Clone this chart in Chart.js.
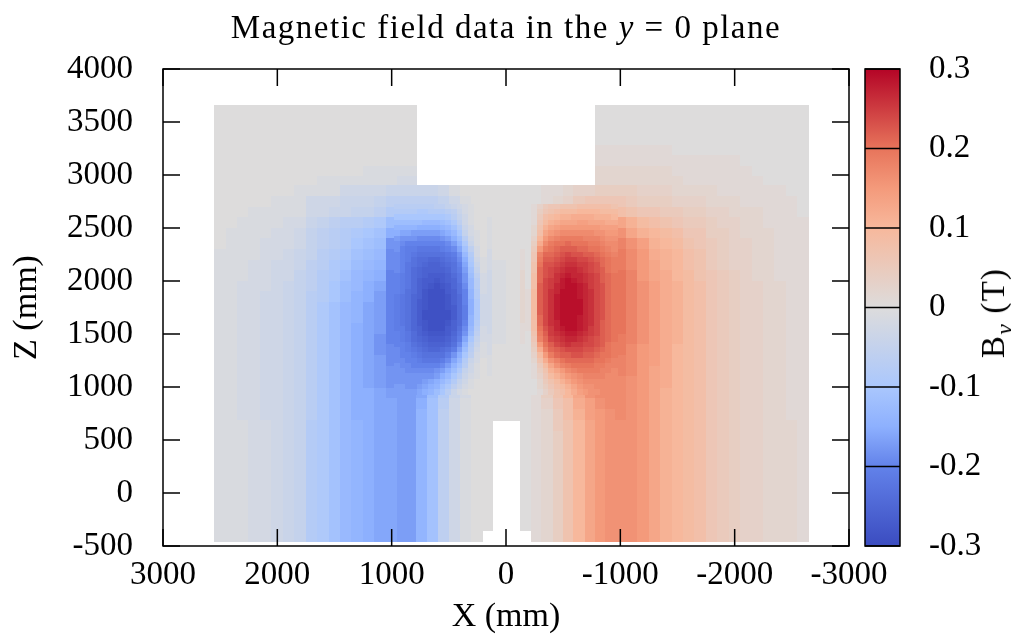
<!DOCTYPE html>
<html>
<head>
<meta charset="utf-8">
<title>Magnetic field data</title>
<script src="https://cdn.jsdelivr.net/npm/chart.js@4/dist/chart.umd.min.js"></script>
<style>
    html, body { margin: 0; padding: 0; background: #fff; }
    #page { position: relative; width: 1011px; height: 634px; overflow: hidden; font-family: "Liberation Serif", serif; color: #000; }
    canvas { position: absolute; top: 0; }
    #mainTitle { position: absolute; left: 0; width: 1012px; top: 7px; text-align: center; font-size: 33px; line-height: 40px; letter-spacing: 1.5px; white-space: nowrap; }
    #barTitle { position: absolute; left: 993px; top: 313px; font-size: 33px; line-height: 40px; letter-spacing: 1.2px; white-space: nowrap; transform: translate(-50%, -50%) rotate(-90deg); }
    #barTitle sub { font-size: 24px; font-style: italic; line-height: 0; }
</style>
</head>
<body>
<div id="page">
    <canvas id="fieldChart" width="1011" height="634" style="left:0"></canvas>
    <canvas id="barChart" width="161" height="634" style="left:850px"></canvas>
    <div id="mainTitle">Magnetic field data in the <i>y</i> = 0 plane</div>
    <div id="barTitle">B<sub>y</sub> (T)</div>
</div>
<script>
var N = null;

// tick labels
var xTicks = [3000, 2000, 1000, 0, -1000, -2000, -3000];
var zTicks = [-500, 0, 500, 1000, 1500, 2000, 2500, 3000, 3500, 4000];
var barTicks = [-0.3, -0.2, -0.1, 0, 0.1, 0.2, 0.3];

// coarse cell edges in mm
var xEdges = [2550, 2450, 2350, 2250, 2150, 2050, 1950, 1850, 1750, 1650, 1550, 1450, 1350, 1250, 1150, 1050,
    950, 870, 785, 690, 590, 495, 400, 305, 210, 115, 0, -125, -220, -315, -410, -500, -595, -690, -780,
    -870, -960, -1050, -1150, -1250, -1350, -1450, -1550, -1650, -1750, -1850, -1950, -2050, -2150, -2250,
    -2350, -2450, -2550, -2650];
var zEdges = [3660, 3565, 3470, 3370, 3275, 3180, 3085, 2990, 2895, 2795, 2695, 2595, 2495, 2395, 2295, 2195,
    2095, 1995, 1895, 1795, 1695, 1595, 1495, 1395, 1295, 1195, 1095, 990, 885, 785, 680, 580, 475, 370, 270,
    165, 65, -40, -145, -250, -355, -460];

// By in 0.01 T, one row per z band (top to bottom), one value per x band
var byRows = [
    [0,0,0,0,0,0,0,0,0,0,0,0,0,0,0,0,0,0,N,N,N,N,N,N,N,N,N,N,N,N,N,N,N,N,0,0,0,0,0,0,0,0,0,0,0,0,0,0,0,0,0,0,0],
    [0,0,0,0,0,0,0,0,0,0,0,0,0,0,0,0,0,0,N,N,N,N,N,N,N,N,N,N,N,N,N,N,N,N,0,0,0,0,0,0,0,0,0,0,0,0,0,0,0,0,0,0,0],
    [0,0,0,0,0,0,0,0,0,0,0,0,0,0,0,0,0,0,N,N,N,N,N,N,N,N,N,N,N,N,N,N,N,N,0,0,0,0,0,0,0,0,0,0,0,0,0,0,0,0,0,0,0],
    [0,0,0,0,0,0,0,0,0,0,0,0,0,0,0,0,0,0,N,N,N,N,N,N,N,N,N,N,N,N,N,N,N,N,0,0,0,0,0,0,0,0,0,0,0,0,0,0,0,0,0,0,0],
    [0,0,0,0,0,0,0,0,0,0,0,0,0,0,0,0,0,0,N,N,N,N,N,N,N,N,N,N,N,N,N,N,N,N,1,1,1,1,1,1,1,0,0,0,0,0,0,0,0,0,0,0,0],
    [0,0,0,0,0,0,0,0,0,0,0,0,0,0,0,0,0,0,N,N,N,N,N,N,N,N,N,N,N,N,N,N,N,N,1,1,1,1,1,1,1,1,1,1,1,1,1,0,0,0,0,0,0],
    [0,0,0,0,0,0,0,0,0,0,0,0,0,-1,-1,-1,-1,-1,N,N,N,N,N,N,N,N,N,N,N,N,N,N,N,N,2,2,2,2,2,2,2,1,1,1,1,1,1,1,0,0,0,0,0],
    [0,0,0,0,0,0,0,0,0,-1,-1,-1,-1,-1,-1,-1,-2,-2,N,N,N,N,N,N,N,N,N,N,N,N,N,N,N,N,2,2,2,2,2,2,2,2,1,1,1,1,1,1,1,0,0,0,0],
    [0,0,0,0,0,0,0,-1,-1,-1,-1,-3,-3,-3,-3,-4,-4,-4,-4,-4,-3,-1,0,0,0,0,0,0,0,1,1,2,3,3,4,4,4,4,3,3,3,2,2,2,2,1,1,1,1,1,1,0,0],
    [0,0,0,0,0,-1,-1,-1,-3,-3,-3,-4,-4,-4,-5,-6,-6,-6,-6,-6,-5,-3,-1,0,0,0,0,0,0,1,2,3,5,6,6,6,6,5,4,4,4,3,3,3,2,2,2,1,1,1,1,1,0],
    [0,0,0,-1,-1,-1,-1,-1,-3,-3,-4,-4,-5,-5,-6,-8,-7,-8,-9,-9,-7,-5,-2,-1,0,0,0,0,1,2,4,6,8,9,9,9,8,7,6,6,5,5,4,4,3,3,2,2,2,1,1,1,0],
    [0,0,-1,-1,-1,-1,-2,-2,-4,-5,-6,-7,-7,-8,-9,-12,-11,-12,-14,-14,-12,-9,-5,-2,-1,0,0,0,1,5,9,11,13,13,13,13,13,11,9,8,7,6,5,5,4,3,3,2,2,1,1,1,1],
    [0,-1,-1,-1,-1,-2,-2,-3,-5,-6,-7,-8,-9,-10,-11,-15,-14,-15,-17,-18,-17,-13,-8,-3,-1,0,0,0,3,9,13,15,17,17,16,15,16,13,11,10,9,8,6,6,4,4,3,2,2,2,1,1,1],
    [0,-1,-1,-1,-2,-2,-2,-3,-5,-6,-7,-8,-10,-11,-12,-18,-16,-17,-19,-21,-20,-16,-11,-5,-1,0,0,0,7,14,17,19,20,20,19,18,18,16,14,11,10,9,7,6,5,4,3,3,2,2,1,1,1],
    [-1,-1,-1,-1,-2,-2,-3,-4,-5,-7,-8,-9,-11,-12,-13,-19,-17,-19,-22,-23,-23,-19,-13,-6,-2,0,0,1,12,19,22,23,23,23,21,20,19,17,15,12,11,10,8,7,5,4,3,3,2,2,1,1,1],
    [-1,-1,-1,-2,-2,-3,-3,-4,-6,-7,-9,-10,-12,-13,-14,-19,-18,-21,-24,-25,-24,-21,-15,-8,-2,-1,0,1,15,21,24,26,26,24,23,21,19,17,15,13,11,10,8,7,5,4,3,3,2,2,1,1,1],
    [-1,-1,-1,-2,-2,-3,-3,-5,-6,-8,-9,-11,-13,-14,-15,-20,-19,-22,-25,-27,-26,-22,-16,-10,-3,-1,0,2,18,24,26,28,27,25,24,22,20,18,15,13,12,10,9,7,6,5,4,3,2,2,1,1,1],
    [-1,-1,-2,-2,-2,-3,-4,-5,-6,-8,-10,-12,-13,-15,-16,-20,-20,-23,-26,-28,-27,-24,-18,-11,-3,-1,0,2,19,25,28,29,28,26,24,22,20,18,16,14,12,11,9,8,6,5,4,3,3,2,2,1,1],
    [-1,-1,-2,-2,-3,-3,-4,-5,-7,-8,-10,-12,-14,-15,-17,-20,-21,-24,-27,-29,-28,-25,-20,-12,-3,-1,0,2,19,25,28,29,28,26,24,22,20,18,16,14,12,11,9,8,6,5,4,3,3,2,2,1,1],
    [-1,-1,-2,-2,-3,-3,-4,-5,-7,-9,-11,-13,-14,-16,-17,-20,-21,-24,-27,-29,-29,-26,-21,-13,-3,-1,0,2,18,25,28,29,28,26,24,22,20,18,16,14,12,11,9,8,6,5,4,3,3,2,2,1,1],
    [-1,-1,-2,-2,-3,-3,-4,-5,-7,-9,-11,-13,-14,-16,-17,-20,-21,-24,-27,-29,-29,-25,-20,-12,-3,-1,0,2,17,24,28,29,28,26,24,22,20,18,16,14,12,11,9,8,6,5,4,3,3,2,2,1,1],
    [-1,-1,-2,-2,-3,-3,-4,-5,-7,-9,-11,-13,-15,-16,-17,-20,-21,-24,-27,-29,-28,-24,-18,-10,-3,-1,0,1,14,23,27,28,27,25,23,21,20,18,16,14,12,11,9,8,6,5,4,3,3,2,2,1,1],
    [-1,-1,-2,-2,-3,-3,-4,-5,-7,-9,-11,-13,-15,-16,-18,-20,-21,-23,-26,-27,-26,-22,-15,-8,-2,-1,0,1,10,21,25,27,25,24,22,21,19,18,16,14,12,11,9,8,6,5,4,3,3,2,2,1,1],
    [-1,-1,-2,-2,-3,-3,-4,-5,-7,-9,-11,-13,-15,-16,-18,-19,-20,-22,-24,-25,-24,-19,-12,-6,-2,0,0,0,7,18,22,24,23,23,21,20,19,17,15,14,12,10,9,8,6,5,4,3,3,2,2,1,1],
    [-1,-1,-2,-2,-3,-3,-4,-5,-7,-9,-11,-13,-15,-16,-17,-19,-20,-21,-22,-22,-20,-16,-9,-4,-1,0,0,0,4,13,18,21,22,21,20,19,18,17,15,14,12,10,9,8,6,5,4,3,3,2,2,1,1],
    [-1,-1,-2,-2,-3,-3,-4,-5,-7,-9,-11,-13,-15,-16,-17,-18,-19,-20,-20,-19,-17,-12,-6,-3,-1,0,0,0,2,10,14,18,20,20,19,18,18,17,15,13,12,10,9,8,6,5,4,3,3,2,2,1,1],
    [-1,-1,-2,-2,-3,-3,-4,-5,-7,-9,-11,-13,-15,-16,-17,-18,-18,-19,-18,-16,-14,-9,-5,-2,0,0,0,0,1,7,10,13,16,18,18,18,17,16,15,13,12,10,9,8,6,5,4,3,3,2,2,1,1],
    [-1,-1,-2,-2,-3,-3,-4,-5,-7,-9,-11,-13,-15,-15,-16,-17,-17,-17,-16,-12,-8,-4,-2,0,0,0,0,0,1,4,7,10,13,16,17,17,17,16,15,13,11,10,9,8,6,5,4,3,3,2,2,1,1],
    [-1,-1,-2,-2,-3,-3,-4,-5,-7,-9,-11,-13,-15,-15,-16,-16,-17,-17,-15,-11,-7,-3,-1,0,0,0,0,0,1,3,6,8,12,14,16,17,17,16,15,13,11,10,9,8,6,5,4,3,3,2,2,1,1],
    [-1,-1,-2,-2,-3,-3,-4,-5,-7,-9,-11,-13,-15,-15,-16,-16,-17,-17,-14,-11,-6,-3,-1,0,0,0,0,0,1,2,5,8,11,14,15,16,17,16,15,13,11,10,9,8,6,5,4,3,3,2,2,1,1],
    [-1,-1,-1,-2,-2,-3,-4,-5,-8,-9,-11,-13,-14,-15,-16,-16,-17,-17,-14,-11,-6,-3,-1,0,0,N,N,0,1,2,5,7,10,13,15,16,16,16,15,13,11,10,9,8,6,5,4,3,3,2,2,2,1],
    [-1,-1,-1,-2,-2,-3,-4,-5,-8,-9,-11,-13,-14,-15,-16,-16,-17,-17,-14,-11,-6,-3,-1,0,0,N,N,0,1,2,4,7,10,13,15,16,16,16,15,13,11,10,9,8,6,5,4,3,3,2,2,2,1],
    [-1,-1,-1,-2,-2,-3,-4,-5,-8,-9,-11,-13,-14,-15,-16,-16,-17,-17,-14,-11,-6,-3,-1,0,0,N,N,0,1,2,4,7,10,13,15,16,16,16,15,13,11,10,9,8,6,5,4,3,3,2,2,2,1],
    [-1,-1,-1,-2,-2,-3,-4,-5,-8,-9,-11,-13,-14,-15,-16,-16,-17,-17,-14,-11,-6,-3,-1,0,0,N,N,0,1,2,4,7,10,13,15,16,16,16,15,13,11,10,9,8,6,5,4,3,3,2,2,2,1],
    [-1,-1,-1,-2,-2,-3,-4,-5,-8,-9,-11,-13,-14,-15,-16,-16,-17,-17,-14,-11,-6,-3,-1,0,0,N,N,0,1,2,4,7,10,13,15,16,16,16,15,13,11,10,9,8,6,5,4,3,3,2,2,2,1],
    [-1,-1,-1,-2,-2,-3,-4,-5,-8,-9,-11,-13,-14,-15,-16,-16,-17,-17,-14,-11,-6,-3,-1,0,0,N,N,0,1,2,4,7,10,13,15,16,16,16,15,13,11,10,9,8,6,5,4,3,3,2,2,2,1],
    [-1,-1,-1,-2,-2,-3,-4,-5,-8,-9,-11,-13,-14,-15,-16,-16,-17,-17,-14,-11,-6,-3,-1,0,0,N,N,0,1,2,4,7,10,13,15,16,16,16,15,13,11,10,9,8,6,5,4,3,3,2,2,2,1],
    [-1,-1,-1,-2,-2,-3,-4,-5,-8,-9,-11,-13,-14,-15,-16,-16,-17,-17,-14,-11,-6,-3,-1,0,0,N,N,0,1,2,4,7,10,13,15,16,16,16,15,13,11,10,9,8,6,5,4,3,3,2,2,2,1],
    [-1,-1,-1,-2,-2,-3,-4,-5,-8,-9,-11,-13,-14,-15,-16,-16,-17,-17,-14,-11,-6,-3,-1,0,0,N,N,0,1,2,4,7,10,13,15,16,16,16,15,13,11,10,9,8,6,5,4,3,3,2,2,2,1],
    [-1,-1,-1,-2,-2,-3,-4,-5,-8,-9,-11,-13,-14,-15,-16,-16,-17,-17,-14,-11,-6,-3,-1,0,0,N,N,0,1,2,4,7,10,13,15,16,16,16,15,13,11,10,9,8,6,5,4,3,3,2,2,2,1],
    [-1,-1,-1,-2,-2,-3,-4,-5,-8,-9,-11,-13,-14,-15,-16,-16,-17,-17,-14,-11,-6,-3,-1,0,N,N,N,N,1,2,4,7,10,13,15,16,16,16,15,13,11,10,9,8,6,5,4,3,3,2,2,2,1]
];

// finer 50 mm cells around the two field peaks
var fineZ = [2700, 2650, 2600, 2550, 2500, 2450, 2400, 2350, 2300, 2250, 2200, 2150, 2100, 2050, 2000, 1950, 1900, 1850,
    1800, 1750, 1700, 1650, 1600, 1550, 1500, 1450, 1400, 1350, 1300, 1250, 1200, 1150, 1100, 1050, 1000, 950];
var blueX = [950, 900, 850, 800, 750, 700, 650, 600, 550, 500, 450, 400, 350, 300, 250, 200];
var redX = [-200, -250, -300, -350, -400, -450, -500, -550, -600, -650, -700, -750, -800, -850, -900, -950];

var blueRows = [
    [-7,-7,-7,-7,-7,-7,-7,-6,-6,-5,-4,-3,-2,-1,0,0],
    [-8,-8,-8,-8,-9,-9,-8,-8,-8,-7,-6,-4,-2,-1,0,0],
    [-10,-10,-10,-10,-10,-10,-10,-10,-10,-9,-7,-5,-3,-1,0,0],
    [-12,-12,-12,-12,-12,-13,-13,-13,-12,-11,-9,-6,-3,-1,0,0],
    [-14,-14,-14,-14,-15,-15,-15,-15,-14,-13,-11,-8,-4,-2,0,0],
    [-15,-16,-16,-17,-17,-17,-17,-17,-16,-15,-13,-10,-5,-2,-1,0],
    [-17,-18,-18,-18,-19,-19,-19,-19,-18,-17,-15,-12,-7,-3,-1,0],
    [-18,-19,-20,-20,-20,-20,-20,-20,-20,-19,-17,-14,-9,-4,-1,0],
    [-18,-20,-21,-21,-22,-22,-22,-22,-21,-20,-19,-16,-11,-6,-2,0],
    [-19,-20,-21,-22,-23,-23,-23,-23,-23,-22,-21,-18,-13,-8,-2,0],
    [-19,-20,-21,-23,-24,-24,-25,-25,-24,-23,-22,-19,-15,-9,-3,-1],
    [-19,-20,-22,-23,-24,-25,-26,-26,-25,-24,-23,-20,-16,-10,-4,-1],
    [-19,-20,-22,-24,-25,-26,-26,-26,-26,-25,-23,-21,-17,-11,-5,-1],
    [-20,-21,-22,-24,-25,-26,-27,-27,-27,-26,-24,-22,-18,-12,-6,-2],
    [-20,-21,-22,-24,-26,-27,-27,-28,-27,-26,-25,-22,-18,-13,-7,-2],
    [-20,-21,-22,-24,-26,-27,-28,-29,-28,-27,-25,-23,-19,-13,-7,-2],
    [-20,-21,-23,-24,-26,-28,-29,-29,-29,-27,-26,-23,-20,-14,-8,-2],
    [-21,-22,-23,-25,-26,-28,-29,-29,-29,-28,-26,-24,-20,-14,-8,-3],
    [-21,-22,-23,-25,-27,-28,-29,-29,-29,-28,-26,-24,-20,-15,-9,-3],
    [-21,-22,-23,-25,-27,-28,-29,-29,-29,-28,-27,-24,-21,-15,-9,-3],
    [-21,-22,-23,-25,-27,-29,-29,-29,-29,-29,-27,-24,-21,-15,-9,-3],
    [-21,-22,-23,-25,-27,-29,-29,-29,-29,-29,-27,-24,-21,-14,-9,-3],
    [-21,-22,-23,-25,-27,-28,-29,-29,-29,-28,-26,-24,-20,-14,-8,-3],
    [-21,-21,-23,-25,-26,-28,-29,-29,-29,-27,-26,-23,-19,-13,-7,-2],
    [-20,-21,-22,-24,-26,-27,-28,-28,-28,-27,-25,-22,-18,-12,-6,-2],
    [-20,-21,-22,-24,-25,-26,-27,-27,-27,-26,-24,-21,-16,-10,-5,-2],
    [-20,-20,-21,-23,-24,-25,-26,-26,-26,-25,-23,-19,-14,-8,-4,-1],
    [-19,-20,-21,-22,-23,-24,-25,-25,-24,-23,-21,-17,-12,-7,-3,-1],
    [-19,-20,-20,-21,-22,-23,-23,-23,-23,-21,-18,-15,-10,-6,-2,-1],
    [-19,-19,-20,-20,-21,-22,-22,-22,-21,-19,-16,-13,-8,-4,-2,0],
    [-18,-19,-19,-20,-20,-20,-20,-20,-19,-17,-14,-11,-7,-3,-1,0],
    [-18,-18,-19,-19,-19,-19,-19,-18,-17,-15,-12,-9,-5,-3,-1,0],
    [-18,-18,-18,-18,-18,-18,-18,-17,-15,-13,-10,-7,-4,-2,-1,0],
    [-18,-18,-18,-18,-18,-17,-16,-15,-13,-11,-8,-5,-3,-1,0,0],
    [-17,-17,-18,-18,-17,-16,-15,-14,-11,-9,-6,-4,-2,-1,0,0],
    [-17,-17,-17,-17,-16,-15,-14,-12,-10,-7,-4,-2,-1,0,0,0]
];
var redRows = [
    [0,1,3,5,6,6,7,7,7,8,8,8,8,8,8,7],
    [0,1,4,6,7,8,9,9,9,10,10,10,10,9,9,9],
    [0,1,5,8,9,10,11,11,12,12,12,12,11,11,11,10],
    [0,1,6,9,11,12,13,13,13,14,14,13,13,13,12,12],
    [0,2,7,11,13,14,15,15,15,15,15,15,15,14,14,14],
    [0,2,8,13,15,16,17,17,17,17,17,17,16,16,15,15],
    [0,3,10,15,17,18,19,19,19,19,18,18,18,17,16,16],
    [0,4,12,17,19,20,20,21,20,20,20,19,19,18,17,17],
    [0,5,15,19,20,21,22,22,22,21,21,20,20,19,18,17],
    [0,6,18,21,21,22,23,24,23,23,22,22,21,20,19,18],
    [0,6,19,22,22,23,24,25,25,24,24,23,22,21,20,19],
    [0,7,20,23,23,24,25,26,26,25,25,24,23,21,20,19],
    [0,7,21,23,24,25,26,27,27,26,25,24,23,22,20,19],
    [0,8,21,23,24,26,27,28,27,27,26,25,24,22,21,20],
    [0,8,21,24,25,26,28,29,28,27,26,25,24,22,21,20],
    [0,8,22,24,25,27,28,29,29,28,27,25,24,23,21,20],
    [1,9,22,24,26,27,29,29,29,28,27,26,24,23,21,20],
    [1,9,22,24,26,28,29,29,29,28,27,26,24,23,21,20],
    [1,9,22,24,26,28,29,29,29,29,27,26,24,23,21,20],
    [1,9,22,24,26,28,29,29,29,29,27,26,24,23,21,20],
    [1,9,22,24,26,28,29,29,29,29,27,26,24,23,21,20],
    [1,9,21,24,26,28,29,29,29,28,27,26,24,23,21,20],
    [1,8,21,24,26,27,29,29,29,28,27,26,24,22,21,20],
    [1,8,20,23,25,27,28,29,29,28,27,25,24,22,21,20],
    [0,7,19,22,25,26,27,28,28,27,26,25,24,22,21,20],
    [0,6,18,21,24,25,26,27,27,26,25,24,23,22,21,20],
    [0,5,15,20,22,24,25,26,25,25,24,24,23,22,20,19],
    [0,4,12,18,21,22,23,24,24,24,23,23,22,21,20,19],
    [0,3,9,15,19,21,22,22,23,23,22,22,21,20,20,19],
    [0,2,7,12,16,18,20,21,21,21,21,21,20,20,19,18],
    [0,1,5,9,13,16,18,19,20,20,20,20,19,19,18,18],
    [0,1,4,7,11,13,15,17,18,19,19,19,19,18,18,17],
    [0,1,3,6,9,11,13,15,16,17,18,18,18,18,17,17],
    [0,0,2,5,7,9,11,13,15,16,17,17,17,17,17,17],
    [0,0,2,4,6,8,9,11,13,15,16,16,17,17,17,17],
    [0,0,1,3,5,7,8,10,12,14,15,16,16,17,17,17]
];

// colour scale, position on -0.3..0.3 and rgb
var paletteStops = [0, 0.1667, 0.25, 0.3333, 0.5, 0.6667, 0.75, 0.8333, 1];
var paletteColors = [[59, 76, 192], [98, 130, 234], [141, 176, 254], [170, 199, 253], [221, 220, 220],
    [247, 184, 156], [244, 154, 123], [231, 116, 91], [180, 4, 38]];

var fontName = '"Liberation Serif", serif';

function colorFor(t) {
    for (var i = 1; i < paletteStops.length; i++) {
        if (t <= paletteStops[i]) {
            var f = (t - paletteStops[i - 1]) / (paletteStops[i] - paletteStops[i - 1]);
            var a = paletteColors[i - 1], b = paletteColors[i];
            return 'rgb(' + Math.round(a[0] + (b[0] - a[0]) * f) + ',' + Math.round(a[1] + (b[1] - a[1]) * f) + ',' + Math.round(a[2] + (b[2] - a[2]) * f) + ')';
        }
    }
    return 'rgb(180,4,38)';
}

// cells as points, coarse ones first so the fine ones land on top
var cells = [];
byRows.forEach(function (row, r) {
    row.forEach(function (v, c) {
        if (v === null) return;
        cells.push({
            x: (xEdges[c] + xEdges[c + 1]) / 2,
            y: (zEdges[r] + zEdges[r + 1]) / 2,
            v: v,
            dx: xEdges[c] - xEdges[c + 1],
            dz: zEdges[r] - zEdges[r + 1]
        });
    });
});
function addFine(rows, xs) {
    rows.forEach(function (row, r) {
        row.forEach(function (v, c) {
            cells.push({ x: xs[c], y: fineZ[r], v: v, dx: 50, dz: 50 });
        });
    });
}
addFine(blueRows, blueX);
addFine(redRows, redX);

// small filled canvas used as the point style of a cell
var stamps = {};
function cellStamp(ctx) {
    var p = ctx.raw;
    if (!p) return 'rect';
    var sx = ctx.chart.scales.x, sy = ctx.chart.scales.y;
    var w = Math.round(Math.abs(sx.getPixelForValue(p.dx) - sx.getPixelForValue(0))) + 1;
    var h = Math.round(Math.abs(sy.getPixelForValue(p.dz) - sy.getPixelForValue(0))) + 1;
    var key = w + '_' + h + '_' + p.v;
    if (!stamps[key]) {
        var c = document.createElement('canvas');
        c.width = w;
        c.height = h;
        var g = c.getContext('2d');
        g.fillStyle = colorFor((p.v / 100 + 0.3) / 0.6);
        g.fillRect(0, 0, w, h);
        stamps[key] = c;
    }
    return stamps[key];
}

// gnuplot style box with ticks pointing inward
var boxTicks = {
    id: 'boxTicks',
    afterDatasetsDraw: function (chart) {
        var a = chart.chartArea, g = chart.ctx, len = 17;
        g.save();
        g.strokeStyle = '#000';
        g.lineWidth = 1.5;
        g.beginPath();
        xTicks.forEach(function (v) {
            var px = chart.scales.x.getPixelForValue(v);
            g.moveTo(px, a.top); g.lineTo(px, a.top + len);
            g.moveTo(px, a.bottom); g.lineTo(px, a.bottom - len);
        });
        zTicks.forEach(function (v) {
            var py = chart.scales.y.getPixelForValue(v);
            g.moveTo(a.left, py); g.lineTo(a.left + len, py);
            g.moveTo(a.right, py); g.lineTo(a.right - len, py);
        });
        g.stroke();
        g.strokeRect(a.left, a.top, a.right - a.left, a.bottom - a.top);
        g.restore();
    }
};

var barBox = {
    id: 'barBox',
    afterDatasetsDraw: function (chart) {
        var a = chart.chartArea, g = chart.ctx;
        g.save();
        g.strokeStyle = '#000';
        g.lineWidth = 1.5;
        g.beginPath();
        barTicks.forEach(function (v) {
            var py = chart.scales.y.getPixelForValue(v);
            g.moveTo(a.left, py); g.lineTo(a.right, py);
        });
        g.stroke();
        g.strokeRect(a.left, a.top, a.right - a.left, a.bottom - a.top);
        g.restore();
    }
};

new Chart(document.getElementById('fieldChart').getContext('2d'), {
    type: 'scatter',
    data: {
        datasets: [{
            label: 'By',
            data: cells,
            pointStyle: cellStamp,
            pointRadius: 5,
            pointBorderWidth: 0
        }]
    },
    options: {
        responsive: false,
        animation: false,
        events: [],
        layout: { padding: { top: 69, right: 162, bottom: 0, left: 0 } },
        plugins: { legend: { display: false }, tooltip: { enabled: false }, title: { display: false } },
        scales: {
            x: {
                type: 'linear',
                reverse: true,
                min: -3000,
                max: 3000,
                afterBuildTicks: function (scale) {
                    scale.ticks = xTicks.map(function (v) { return { value: v }; });
                },
                afterFit: function (scale) { scale.height = 88; },
                grid: { display: false, drawTicks: false },
                border: { display: false },
                ticks: {
                    color: '#000',
                    padding: 10,
                    maxRotation: 0,
                    autoSkip: false,
                    font: { family: fontName, size: 33 },
                    callback: function (v) { return String(v); }
                },
                title: { display: true, text: 'X (mm)', color: '#000', padding: { top: 0, bottom: -3 }, font: { family: fontName, size: 34 } }
            },
            y: {
                type: 'linear',
                min: -500,
                max: 4000,
                afterBuildTicks: function (scale) {
                    scale.ticks = zTicks.map(function (v) { return { value: v }; });
                },
                afterFit: function (scale) { scale.width = 163; },
                grid: { display: false, drawTicks: false },
                border: { display: false },
                ticks: {
                    color: '#000',
                    padding: 30,
                    autoSkip: false,
                    font: { family: fontName, size: 33 },
                    callback: function (v) { return String(v); }
                },
                title: { display: true, text: 'Z (mm)', color: '#000', padding: { top: 7, bottom: 0 }, font: { family: fontName, size: 34 } }
            }
        }
    },
    plugins: [boxTicks]
});

new Chart(document.getElementById('barChart').getContext('2d'), {
    type: 'bar',
    data: {
        labels: ['By'],
        datasets: [{
            data: [[barTicks[0], barTicks[barTicks.length - 1]]],
            barPercentage: 1,
            categoryPercentage: 1,
            backgroundColor: function (ctx) {
                var a = ctx.chart.chartArea;
                if (!a) return '#ddd';
                var grad = ctx.chart.ctx.createLinearGradient(0, a.bottom, 0, a.top);
                paletteStops.forEach(function (s, i) {
                    grad.addColorStop(s, 'rgb(' + paletteColors[i].join(',') + ')');
                });
                return grad;
            }
        }]
    },
    options: {
        responsive: false,
        animation: false,
        events: [],
        layout: { padding: { top: 69, left: 15, right: 0, bottom: 88 } },
        plugins: { legend: { display: false }, tooltip: { enabled: false } },
        scales: {
            x: { display: false },
            y: {
                position: 'right',
                min: -0.3,
                max: 0.3,
                afterBuildTicks: function (scale) {
                    scale.ticks = barTicks.map(function (v) { return { value: v }; });
                },
                afterFit: function (scale) { scale.width = 111; },
                grid: { display: false, drawTicks: false },
                border: { display: false },
                ticks: {
                    color: '#000',
                    padding: 29,
                    autoSkip: false,
                    font: { family: fontName, size: 33 },
                    callback: function (v) { return String(v); }
                }
            }
        }
    },
    plugins: [barBox]
});
</script>
</body>
</html>
